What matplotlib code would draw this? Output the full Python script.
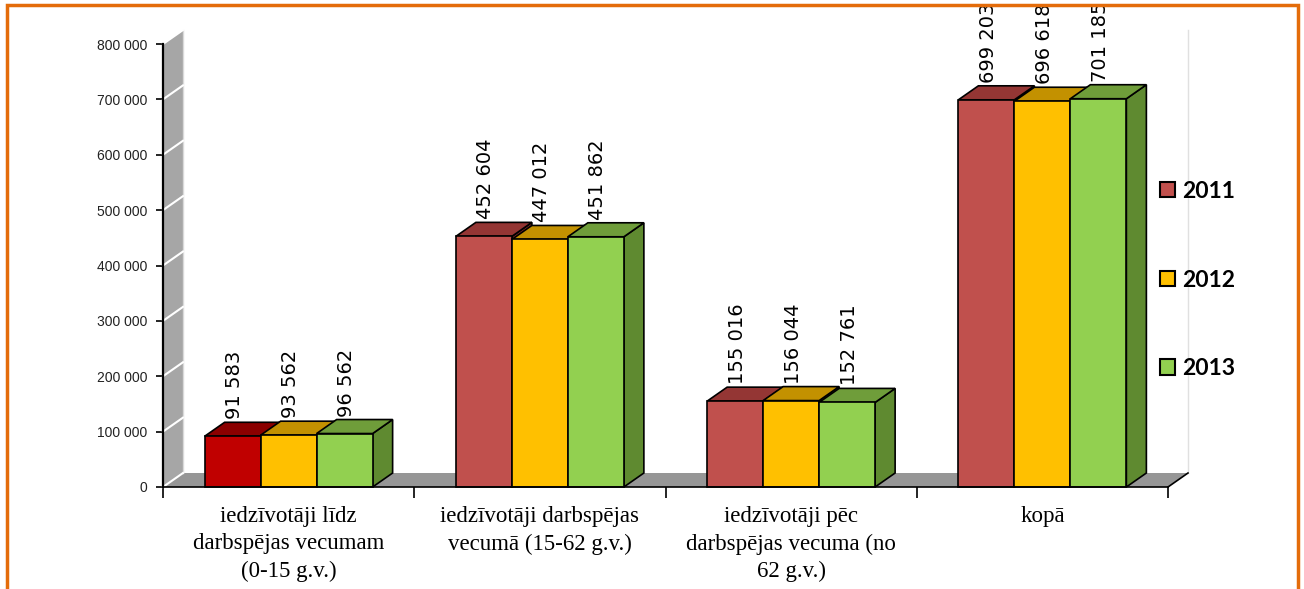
import numpy as np
import matplotlib.pyplot as plt
from matplotlib.patches import Polygon, Patch, Rectangle
from matplotlib.ticker import FuncFormatter

# dati
categories = ["iedzīvotāji līdz\ndarbspējas vecumam\n(0-15 g.v.)",
              "iedzīvotāji darbspējas\nvecumā (15-62 g.v.)",
              "iedzīvotāji pēc\ndarbspējas vecuma (no\n62 g.v.)",
              "kopā"]
years = ["2011", "2012", "2013"]
v2011 = [91583, 452604, 155016, 699203]
v2012 = [93562, 447012, 156044, 696618]
v2013 = [96562, 451862, 152761, 701185]
values = [v2011, v2012, v2013]

# krāsas: priekša, augša, sāns
front = ["#C0504D", "#FFC000", "#92D050"]
top = ["#943634", "#C39100", "#6F9D3A"]
side = ["#7F2A28", "#A07800", "#5F8A30"]

W, H = 1304, 589
fig = plt.figure(figsize=(W / 100, H / 100), dpi=100)
x0, x1, y0, y1 = 163, 1168, 487, 44
ax = fig.add_axes([x0 / W, 1 - y0 / H, (x1 - x0) / W, (y0 - y1) / H])
ax.set_xlim(-0.5, 3.5)
ax.set_ylim(0, 800000)

# 3D dziļums datu vienībās
px_x = 4 / (x1 - x0)
px_y = 800000 / (y0 - y1)
DX, DY = 20 * px_x, 14 * px_y

# siena un grīda
ax.add_patch(Polygon([(-0.5, 0), (-0.5 + DX, DY), (-0.5 + DX, 800000 + DY), (-0.5, 800000)],
                     closed=True, fc="#A6A6A6", ec="none", clip_on=False, zorder=1))
ax.add_patch(Polygon([(-0.5, 0), (3.5, 0), (3.5 + DX, DY), (-0.5 + DX, DY)],
                     closed=True, fc="#969696", ec="none", clip_on=False, zorder=1))
for t in np.arange(0, 800001, 100000):
    ax.plot([-0.5, -0.5 + DX], [t, t + DY], color="white", lw=1.5, clip_on=False, zorder=2)
ax.plot([-0.5 + DX, -0.5 + DX], [DY, 800000 + DY], color="#D9D9D9", lw=1, clip_on=False, zorder=1)
ax.plot([3.5 + DX, 3.5 + DX], [DY, 800000 + DY], color="#E0E0E0", lw=1, clip_on=False, zorder=1)
ax.plot([3.5, 3.5 + DX], [0, DY], color="black", lw=1.2, clip_on=False, zorder=3)

bw = 56 * px_x
for g in range(len(categories)):
    for s in range(3):
        v = values[s][g]
        xl = g - 1.5 * bw + s * bw
        fc, tc, sc = front[s], top[s], side[s]
        if g == 0 and s == 0:
            fc, tc = "#C00000", "#8B0000"
        z = 4 + s * 0.1
        ax.add_patch(Polygon([(xl + bw, 0), (xl + bw + DX, DY), (xl + bw + DX, v + DY), (xl + bw, v)],
                             closed=True, fc=sc, ec="black", lw=1.2, zorder=z, clip_on=False))
        ax.add_patch(Polygon([(xl, v), (xl + DX, v + DY), (xl + bw + DX, v + DY), (xl + bw, v)],
                             closed=True, fc=tc, ec="black", lw=1.2, zorder=z, clip_on=False))
        ax.add_patch(Rectangle((xl, 0), bw, v, fc=fc, ec="black", lw=1.2, zorder=z + 0.01, clip_on=False))
        ax.text(xl + bw / 2 + 2 * px_x, v + DY + 3 * px_y, f"{v:,}".replace(",", " "),
                rotation=90, ha="center", va="bottom", fontsize=14, family="DejaVu Sans", zorder=6)

# asis
for sp in ["top", "right"]:
    ax.spines[sp].set_visible(False)
ax.spines["left"].set_linewidth(1.6)
ax.spines["bottom"].set_linewidth(1.2)
ax.spines["left"].set_zorder(5)
ax.spines["bottom"].set_zorder(5)
ax.set_yticks(np.arange(0, 800001, 100000))
ax.yaxis.set_major_formatter(FuncFormatter(lambda v, p: f"{int(v):,}".replace(",", " ")))
ax.tick_params(axis="y", length=5, width=1.2, labelsize=10, pad=6)
for lab in ax.get_yticklabels():
    lab.set_family("Liberation Sans")
    lab.set_color("#222222")
ax.set_xticks(range(len(categories)))
ax.set_xticklabels(categories, family="Liberation Serif", fontsize=16.5, linespacing=1.37)
ax.tick_params(axis="x", which="major", length=0, pad=14)
ax.set_xticks(np.arange(-0.5, 3.6, 1), minor=True)
ax.tick_params(axis="x", which="minor", length=8, width=1.2)

# leģenda
handles = [Patch(fc=front[i], ec="black", lw=1.5) for i in range(3)]
leg = fig.legend(handles, years, loc="center left", bbox_to_anchor=(1139 / W, 1 - 280 / H),
                 frameon=False, prop={"family": "Lato", "weight": "bold", "size": 16.5},
                 handlelength=0.65, handleheight=0.65, handletextpad=0.35, labelspacing=2.95)

# oranžais rāmis
fig.add_artist(Rectangle((7 / W, -0.05), 1291 / W, 1.05 - 5 / H, transform=fig.transFigure,
                         fill=False, ec="#E46C0A", lw=2.5))

fig.savefig("out.png", dpi=100)
